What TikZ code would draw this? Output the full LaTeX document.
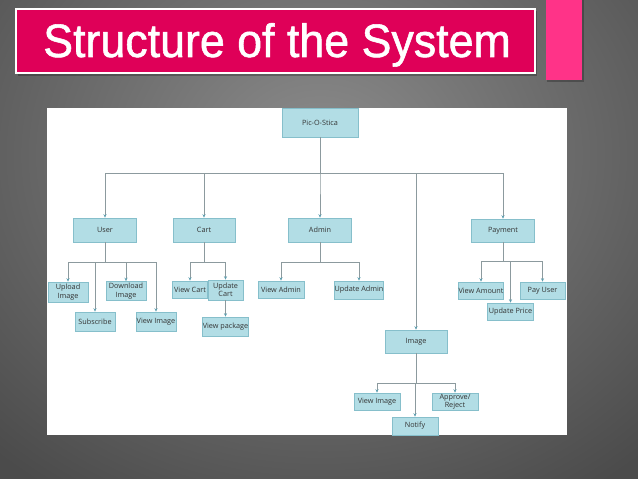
\documentclass[tikz,border=0pt]{standalone}
\usepackage{fontspec}
\setmainfont{Liberation Sans}
\newfontfamily\titlefont[FakeBold=1.2]{Liberation Sans}
\newfontfamily\boxfont{Open Sans}
\usepackage{xcolor}
\usetikzlibrary{arrows.meta}
\definecolor{SlideGrey}{HTML}{4B4B4B}
\definecolor{SlideLight}{HTML}{8C8C8C}
\definecolor{TitleRed}{HTML}{DF0058}
\definecolor{AccentPink}{HTML}{FF3388}
\definecolor{BoxFill}{HTML}{B2DDE5}
\definecolor{BoxEdge}{HTML}{86BFCB}
\definecolor{LinkGrey}{HTML}{8C9A9E}
\definecolor{TipTeal}{HTML}{5E9FB0}
\definecolor{LabelInk}{HTML}{333333}
\tikzset{
    modbox/.style={draw=BoxEdge, fill=BoxFill, line width=0.5pt, align=center,
        inner sep=0pt, text=LabelInk, font=\boxfont\fontsize{6.2}{7.2}\selectfont},
    link/.style={draw=LinkGrey, line width=0.6pt},
    arrowlink/.style={link, -{Stealth[length=3pt,width=2.6pt,color=TipTeal]}}
}
\newcommand{\modnode}[5]{%
    \node[modbox, minimum width=#3*0.03cm, minimum height=#4*0.03cm] (#1) at #2 {#5};}

\begin{document}
\begin{tikzpicture}[x=0.03cm, y=-0.03cm]
    \useasboundingbox (0,0) rectangle (638,479);
    % slide background
    \shade[inner color=SlideLight, outer color=SlideGrey] (-160,-250) rectangle (800,560);

    % title banner
    \fill[black, opacity=0.25] (18,11) rectangle (537,76);
    \draw[white, line width=1.2pt, fill=TitleRed] (16,9) rectangle (535,73);
    \node[anchor=base west, inner sep=0pt, text=white] (title) at (43,57)
        {\scalebox{0.955}[1]{\titlefont\fontsize{40}{44}\selectfont Structure of the System}};
    \fill[black, opacity=0.25] (547,0) rectangle (584,82);
    \fill[AccentPink] (546,0) rectangle (582,80);

    % white panel
    \fill[white] (47,108) rectangle (567,435);

    % top level
    \modnode{root}{(320,122.5)}{76}{29}{Pic-O-Stica}
    \modnode{user}{(105,230)}{63}{24}{User}
    \modnode{cart}{(204,230)}{62}{24}{Cart}
    \modnode{admin}{(320,230)}{63}{24}{Admin}
    \modnode{image}{(416,341.5)}{62}{23}{Image}
    \modnode{payment}{(503,230.5)}{63}{23}{Payment}

    % user branch
    \modnode{upload}{(68,292)}{40}{20}{Upload\\Image}
    \modnode{download}{(126,291)}{40}{19}{Download\\Image}
    \modnode{subscribe}{(95,321.5)}{40}{19}{Subscribe}
    \modnode{viewimage}{(156,321.5)}{40}{19}{View Image}

    % cart branch
    \modnode{viewcart}{(190,289.5)}{35}{17}{View Cart}
    \modnode{updatecart}{(225.5,290)}{35}{20}{Update\\Cart}
    \modnode{viewpackage}{(225.5,326.5)}{45}{19}{View package}

    % admin branch
    \modnode{viewadmin}{(281,289.5)}{46}{17}{View Admin}
    \modnode{updateadmin}{(359,290)}{48}{18}{Update Admin}

    % image branch
    \modnode{viewimagetwo}{(377,401.5)}{46}{17}{View Image}
    \modnode{approve}{(455,401.5)}{46}{17}{Approve/\\Reject}
    \modnode{notify}{(415,426)}{46}{18}{Notify}

    % payment branch
    \modnode{viewamount}{(481,290.5)}{45}{17}{View Amount}
    \modnode{payuser}{(542.5,290.5)}{45}{17}{Pay User}
    \modnode{updateprice}{(510.5,311.5)}{46}{17}{Update Price}

    % connectors
    \foreach \kid in {user,cart,admin,image,payment}
        \draw[arrowlink] (root.south) -- ++(0,36) -| (\kid.north);
    \foreach \kid in {upload,download,subscribe,viewimage}
        \draw[arrowlink] (user.south) -- ++(0,20) -| (\kid.north);
    \foreach \kid in {viewcart,updatecart}
        \draw[arrowlink] (cart.south) -- ++(0,20) -| (\kid.north);
    \draw[arrowlink] (updatecart.south) -- (viewpackage.north);
    \foreach \kid in {viewadmin,updateadmin}
        \draw[arrowlink] (admin.south) -- ++(0,20) -| (\kid.north);
    \foreach \kid in {viewimagetwo,approve,notify}
        \draw[arrowlink] (image.south) -- ++(0,30) -| (\kid.north);
    \foreach \kid in {viewamount,payuser,updateprice}
        \draw[arrowlink] (payment.south) -- ++(0,19.5) -| (\kid.north);
\end{tikzpicture}
\end{document}
